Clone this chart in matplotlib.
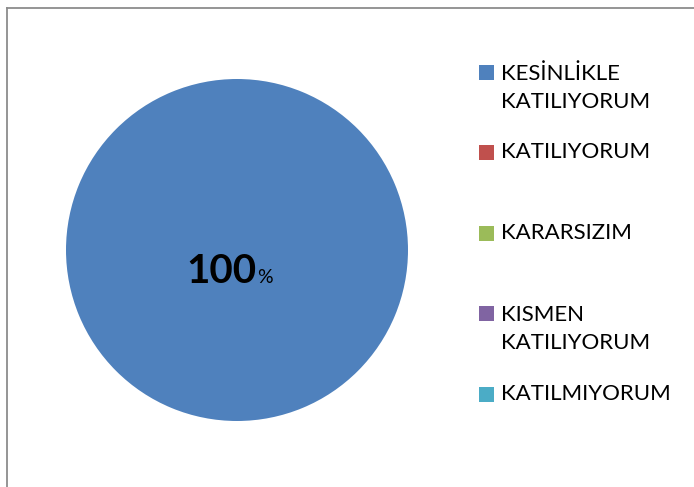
import matplotlib.pyplot as plt
from matplotlib.patches import Rectangle
from matplotlib.lines import Line2D

# data
categories = ["KESİNLİKLE\nKATILIYORUM", "KATILIYORUM", "KARARSIZIM",
              "KISMEN\nKATILIYORUM", "KATILMIYORUM"]
values = [100, 0, 0, 0, 0]
colors = ["#4F81BD", "#C0504D", "#9BBB59", "#8064A2", "#4BACC6"]

plt.rcParams['font.family'] = ['Lato', 'Open Sans', 'DejaVu Sans']

W, H = 694, 487
fig = plt.figure(figsize=(W / 100, H / 100), dpi=100)

def fx(px):
    return px / W

def fy(py):
    return 1 - py / H

# frame (only top and left edges visible)
fig.add_artist(Line2D([fx(6.5), 1], [fy(7.5), fy(7.5)], color="#8c8c8c", lw=1.3))
fig.add_artist(Line2D([fx(6.5), fx(6.5)], [0, fy(7.5)], color="#8c8c8c", lw=1.3))

# pie
cx, cy, r = 237, 250, 171
ax = fig.add_axes([fx(cx - r), fy(cy + r), 2 * r / W, 2 * r / H])
ax.pie(values, colors=colors, startangle=90, counterclock=False,
       wedgeprops=dict(linewidth=0))
ax.set_xlim(-1, 1)
ax.set_ylim(-1, 1)
ax.set_aspect('auto')
ax.axis('off')

# data label, e.g. "100%"
total = sum(values)
pct = round(values[0] / total * 100)
fig.text(fx(256), fy(283), f"{pct}", ha='right', va='baseline',
         fontsize=29, fontweight='bold', color='black')
fig.text(fx(257), fy(283), "%", ha='left', va='baseline',
         fontsize=14, color='black')

# legend drawn by hand (Excel-like uneven spacing)
entry_y = [72, 152, 233, 313, 394]
for lab, col, y in zip(categories, colors, entry_y):
    fig.add_artist(Rectangle((fx(479), fy(y + 7.5)), 15 / W, 15 / H,
                             facecolor=col, edgecolor='none'))
    nlines = lab.count('\n') + 1
    yc = y + (nlines - 1) * 16
    fig.text(fx(501), fy(yc), lab, ha='left', va='center',
             fontsize=16, color='black', linespacing=1.45)

fig.savefig("out.png", dpi=100)
